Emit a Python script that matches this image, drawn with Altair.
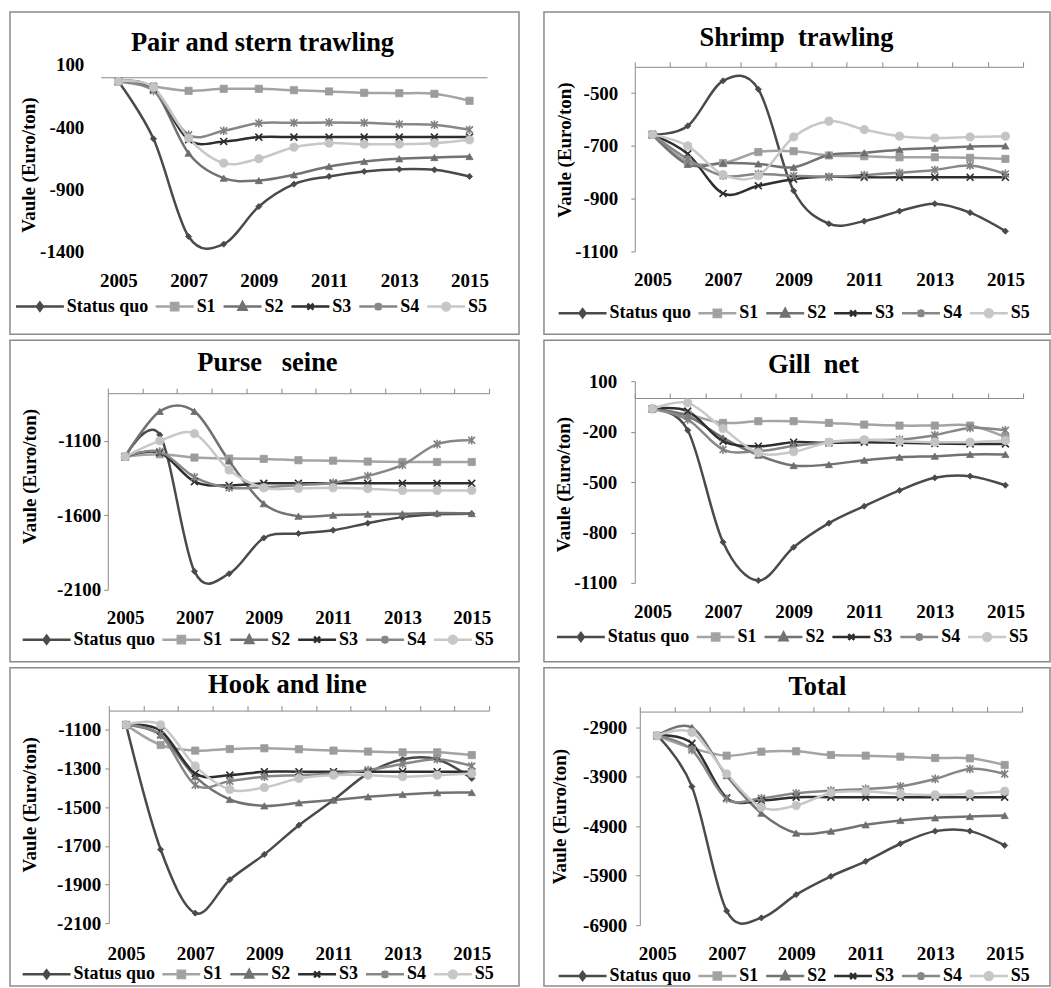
import altair as alt
import pandas as pd

years = [2005, 2006, 2007, 2008, 2009, 2010, 2011, 2012, 2013, 2014, 2015]
label_years = [2005, 2007, 2009, 2011, 2013, 2015]
series = ["Status quo", "S1", "S2", "S3", "S4", "S5"]

# Pair and stern trawling
pair_sq = [-34, -495, -1280, -1341, -1039, -859, -797, -757, -739, -744, -797]
pair_s1 = [-34, -74, -109, -93, -93, -104, -114, -125, -128, -133, -189]
pair_s2 = [-34, -93, -610, -811, -830, -784, -717, -677, -655, -645, -637]
pair_s3 = [-34, -101, -503, -516, -481, -481, -481, -481, -481, -481, -481]
pair_s4 = [-34, -109, -463, -430, -369, -366, -363, -366, -377, -382, -422]
pair_s5 = [-34, -82, -489, -690, -655, -562, -530, -538, -538, -530, -503]
pair_yticks = [-1400, -900, -400, 100]

# Shrimp trawling
shrimp_sq = [-657, -624, -453, -485, -870, -995, -985, -947, -919, -953, -1023]
shrimp_s1 = [-657, -760, -765, -723, -720, -736, -739, -743, -743, -745, -749]
shrimp_s2 = [-657, -770, -765, -768, -781, -734, -726, -714, -708, -702, -700]
shrimp_s3 = [-657, -730, -880, -851, -826, -817, -819, -819, -819, -819, -819]
shrimp_s4 = [-657, -750, -813, -806, -813, -817, -810, -802, -791, -774, -806]
shrimp_s5 = [-657, -700, -809, -813, -666, -606, -638, -663, -670, -666, -663]
shrimp_yticks = [-1100, -900, -700, -500]

# Purse seine
purse_sq = [-1206, -1060, -1976, -1992, -1752, -1722, -1700, -1653, -1612, -1593, -1589]
purse_s1 = [-1206, -1190, -1212, -1219, -1221, -1230, -1233, -1239, -1242, -1242, -1242]
purse_s2 = [-1206, -902, -902, -1235, -1522, -1606, -1599, -1592, -1590, -1585, -1588]
purse_s3 = [-1206, -1179, -1374, -1399, -1385, -1385, -1385, -1385, -1385, -1385, -1385]
purse_s4 = [-1206, -1172, -1343, -1415, -1410, -1397, -1381, -1336, -1262, -1122, -1096]
purse_s5 = [-1206, -1100, -1051, -1295, -1415, -1419, -1415, -1421, -1433, -1433, -1433]
purse_yticks = [-2100, -1600, -1100]

# Gill net
gill_sq = [-65, -192, -858, -1086, -888, -745, -644, -550, -475, -465, -519]
gill_s1 = [-65, -98, -148, -138, -138, -148, -158, -164, -164, -164, -233]
gill_s2 = [-65, -108, -237, -340, -402, -396, -370, -352, -346, -336, -336]
gill_s3 = [-65, -78, -257, -287, -263, -267, -263, -267, -271, -273, -273]
gill_s4 = [-65, -128, -307, -316, -285, -263, -251, -247, -221, -178, -192]
gill_s5 = [-65, -29, -182, -326, -320, -263, -249, -257, -263, -263, -253]
gill_yticks = [-1100, -800, -500, -200, 100]

# Hook and line
hook_sq = [-1074, -1719, -2048, -1875, -1744, -1593, -1463, -1325, -1252, -1252, -1351]
hook_s1 = [-1074, -1178, -1207, -1199, -1195, -1200, -1207, -1212, -1216, -1216, -1230]
hook_s2 = [-1074, -1126, -1342, -1460, -1493, -1477, -1463, -1446, -1434, -1425, -1424]
hook_s3 = [-1074, -1105, -1325, -1334, -1316, -1316, -1316, -1316, -1316, -1316, -1316]
hook_s4 = [-1074, -1126, -1385, -1365, -1342, -1334, -1325, -1308, -1276, -1252, -1287]
hook_s5 = [-1074, -1074, -1287, -1408, -1398, -1351, -1334, -1334, -1342, -1334, -1325]
hook_yticks = [-2100, -1900, -1700, -1500, -1300, -1100]

# Total
total_sq = [-3068, -4097, -6611, -6752, -6282, -5912, -5609, -5253, -4998, -4998, -5287]
total_s1 = [-3068, -3317, -3471, -3391, -3384, -3458, -3471, -3492, -3519, -3525, -3660]
total_s2 = [-3068, -2900, -3875, -4635, -5038, -4998, -4870, -4782, -4729, -4702, -4682]
total_s3 = [-3068, -3223, -4325, -4379, -4312, -4312, -4312, -4312, -4312, -4312, -4312]
total_s4 = [-3068, -3357, -4345, -4332, -4231, -4177, -4144, -4090, -3942, -3740, -3841]
total_s5 = [-3068, -3001, -3841, -4514, -4480, -4224, -4197, -4245, -4265, -4245, -4191]
total_yticks = [-6900, -5900, -4900, -3900, -2900]

# ---------------- styling ----------------
FONT = "Liberation Serif"
GRAY = "#8a8a8a"
line_colors = ["#4a4a4a", "#a4a4a4", "#727272", "#2e2e2e", "#878787", "#c8c8c8"]
marker_colors = ["#4a4a4a", "#9c9c9c", "#6e6e6e", "#2e2e2e", "#808080", "#c4c4c4"]
X_PATH = "M-1,-1L1,1M-1,1L1,-1"
STAR_PATH = "M-1,-1L1,1M-1,1L1,-1M0,-1.25V1.25"
marker_shapes = ["diamond", "square", "triangle-up", X_PATH, STAR_PATH, "circle"]
marker_sizes = [38, 52, 52, 48, 48, 68]
marker_filled = [True, True, True, False, False, True]

# legend symbol = a short line carrying the series marker.
LEG_SIZE = 324            # symbol area -> 9 px per path unit
U = 9.0
LEG_BOX = 21.0            # max(ceil(sqrt(size) + stroke), font size)


def key_path(line_px, marker):
    b = (LEG_BOX - LEG_BOX / 2) / U          # line ends at the right of the symbol box
    a = line_px / U - b
    c = (-a + b) / 2                          # marker centred on the line
    p = f"M{-a:.3f},0H{b:.3f}"
    if marker == "diamond":
        p += f"M{c:.3f},-0.44L{c + 0.33:.3f},0L{c:.3f},0.44L{c - 0.33:.3f},0Z"
    elif marker == "square":
        p += f"M{c - 0.4:.3f},-0.4H{c + 0.4:.3f}V0.4H{c - 0.4:.3f}Z"
    elif marker == "triangle":
        p += f"M{c:.3f},-0.48L{c + 0.44:.3f},0.36H{c - 0.44:.3f}Z"
    elif marker in ("x", "star"):
        p += (f"M{c - 0.33:.3f},-0.33L{c + 0.33:.3f},0.33"
              f"M{c - 0.33:.3f},0.33L{c + 0.33:.3f},-0.33")
        if marker == "star":
            p += f"M{c:.3f},-0.44V0.44"
    else:
        r = 0.44
        p += (f"M{c - r:.3f},0A{r},{r},0,1,0,{c + r:.3f},0"
              f"A{r},{r},0,1,0,{c - r:.3f},0Z")
    return p


legend_paths = [key_path(48, "diamond"), key_path(38, "square"), key_path(38, "triangle"),
                key_path(38, "x"), key_path(38, "star"), key_path(38, "circle")]


def make_panel(title, vals, ymin, ymax, yticks, W, H, L, T, w, h, tpos, ytpos,
               ylab_pad, xlab_pad, legpos, y_line, x_ticks):
    rows = []
    for s, v in zip(series, vals):
        for yr, val in zip(years, v):
            rows.append({"year": yr, "series": s, "value": val})
    df = pd.DataFrame(rows)

    xs = alt.Scale(domain=[years[0] - 0.5, years[-1] + 0.5], range=[L, L + w],
                   nice=False, zero=False)
    ys = alt.Scale(domain=[ymin, ymax], range=[T + h, T], nice=False, zero=False)
    boundaries = [yr - 0.5 for yr in years] + [years[-1] + 0.5]
    zero_px = (ymax / (ymax - ymin)) * h if ymin < 0 < ymax else 0

    yenc = alt.Y(
        "value:Q", scale=ys,
        axis=alt.Axis(
            values=yticks, labelExpr="'' + datum.value",
            title="Vaule (Euro/ton)", titleX=ytpos[0], titleY=ytpos[1],
            titleAngle=270, titleAlign="center", titleBaseline="middle",
            domain=y_line, ticks=y_line, tickSize=4, labelPadding=ylab_pad,
            grid=False, labelOverlap=False, labelFlush=False,
            domainColor=GRAY, tickColor=GRAY, offset=-L,
        ),
    )
    x_top = alt.X(
        "year:Q", scale=xs,
        axis=alt.Axis(orient="top", values=boundaries, labels=False,
                      ticks=x_ticks, tickSize=5, domainColor=GRAY, tickColor=GRAY,
                      title=None, grid=False, offset=-(T + zero_px)),
    )
    x_bottom = alt.X(
        "year:Q", scale=xs,
        axis=alt.Axis(orient="bottom", values=label_years, format="d",
                      domain=False, ticks=False, tickSize=0, labelPadding=xlab_pad,
                      title=None, grid=False, labelFlush=False, labelOverlap=False,
                      labelAngle=0, offset=-(H - T - h)),
    )
    x_plain = alt.X("year:Q", scale=xs, axis=None)

    leg = alt.Legend(
        title=None, orient="none", legendX=legpos[0], legendY=legpos[1],
        direction="horizontal", symbolSize=LEG_SIZE, symbolStrokeWidth=2.5,
        labelFont=FONT, labelFontSize=18, labelFontWeight="bold", labelColor="black",
        labelOffset=3, columnPadding=1, padding=0, symbolOpacity=1, labelLimit=200,
    )
    stroke_scale = alt.Scale(domain=series, range=line_colors)

    lines = alt.Chart(df).mark_line(interpolate="cardinal", strokeWidth=2.5).encode(
        x=x_top, y=yenc,
        stroke=alt.Stroke("series:N", scale=stroke_scale, legend=leg),
    )
    layers = [lines]
    for i, s in enumerate(series):
        kw = dict(shape=marker_shapes[i], size=marker_sizes[i], filled=marker_filled[i],
                  color=marker_colors[i], opacity=1)
        if not marker_filled[i]:
            kw["strokeWidth"] = 1.6
        else:
            kw["stroke"] = marker_colors[i]
            kw["strokeWidth"] = 0.8
        pts = alt.Chart(df).transform_filter(alt.datum.series == s).mark_point(**kw).encode(
            x=x_bottom if i == 0 else x_plain, y=yenc
        )
        layers.append(pts)

    legend_layer = alt.Chart(df).transform_filter("false").mark_point(filled=True).encode(
        shape=alt.Shape("series:N", scale=alt.Scale(domain=series, range=legend_paths), legend=leg),
        fill=alt.Fill("series:N", scale=alt.Scale(domain=series, range=marker_colors), legend=leg),
        stroke=alt.Stroke("series:N", scale=stroke_scale, legend=leg),
    )
    layers.append(legend_layer)

    ttl = alt.Chart(alt.Data(values=[{}])).mark_text(
        text=title, font=FONT, fontSize=26.5, fontWeight="bold", color="black",
        align="center", baseline="alphabetic",
    ).encode(x=alt.value(tpos[0]), y=alt.value(tpos[1]))
    layers.append(ttl)

    return alt.layer(*layers).resolve_axis(x="independent").properties(width=W, height=H)


NB = "\u00a0"
p1 = make_panel("Pair and stern trawling",
                [pair_sq, pair_s1, pair_s2, pair_s3, pair_s4, pair_s5],
                -1400, 100, pair_yticks, 510, 323, 91, 53, 387, 187,
                (253, 39), (-72, 153), 17, 20, (33, 284.5), False, False)
p2 = make_panel("Shrimp " + NB + "trawling",
                [shrimp_sq, shrimp_s1, shrimp_s2, shrimp_s3, shrimp_s4, shrimp_s5],
                -1100, -400, shrimp_yticks, 507, 323, 91, 55, 389, 185,
                (253, 34), (-70, 138), 13, 19.5, (41.7, 291.2), True, True)
p3 = make_panel("Purse " + NB + NB + "seine",
                [purse_sq, purse_s1, purse_s2, purse_s3, purse_s4, purse_s5],
                -2100, -780, purse_yticks, 510, 322, 98, 53, 382, 197,
                (258, 31), (-78, 136), 3, 18.5, (39.7, 289.2), True, True)
p4 = make_panel("Gill " + NB + "net",
                [gill_sq, gill_s1, gill_s2, gill_s3, gill_s4, gill_s5],
                -1100, 100, gill_yticks, 507, 322, 91, 41, 389, 202,
                (270, 33), (-71, 144), 14, 20, (40, 286.5), True, True)
p5 = make_panel("Hook and line",
                [hook_sq, hook_s1, hook_s2, hook_s3, hook_s4, hook_s5],
                -2100, -1000, hook_yticks, 510, 319, 99, 43, 381, 213,
                (278, 25.3), (-79, 137), 4, 21, (39.7, 296.5), True, True)
p6 = make_panel("Total",
                [total_sq, total_s1, total_s2, total_s3, total_s4, total_s5],
                -6900, -2580, total_yticks, 507, 319, 96, 44, 383, 214,
                (274, 27.3), (-80, 148.8), 9, 19.5, (41.7, 298.2), True, True)

ind = dict(x="independent", y="independent", fill="independent",
           stroke="independent", shape="independent")


def row(a, b):
    return (alt.hconcat(a, b, spacing=23).resolve_scale(**ind)
            .resolve_legend(fill="independent", stroke="independent", shape="independent"))


chart = (
    alt.vconcat(row(p1, p2), row(p3, p4), row(p5, p6), spacing=4)
    .resolve_scale(**ind)
    .resolve_legend(fill="independent", stroke="independent", shape="independent")
    .properties(padding={"left": 9, "top": 10, "right": 0, "bottom": 0}, background="white")
    .configure_view(stroke=GRAY, strokeWidth=1.5)
    .configure_axis(
        labelFont=FONT, labelFontSize=19, labelFontWeight="bold", labelColor="black",
        titleFont=FONT, titleFontSize=19, titleFontWeight="bold", titleColor="black",
    )
)

chart.save("out.html", embed_options={"renderer": "svg", "actions": False})
